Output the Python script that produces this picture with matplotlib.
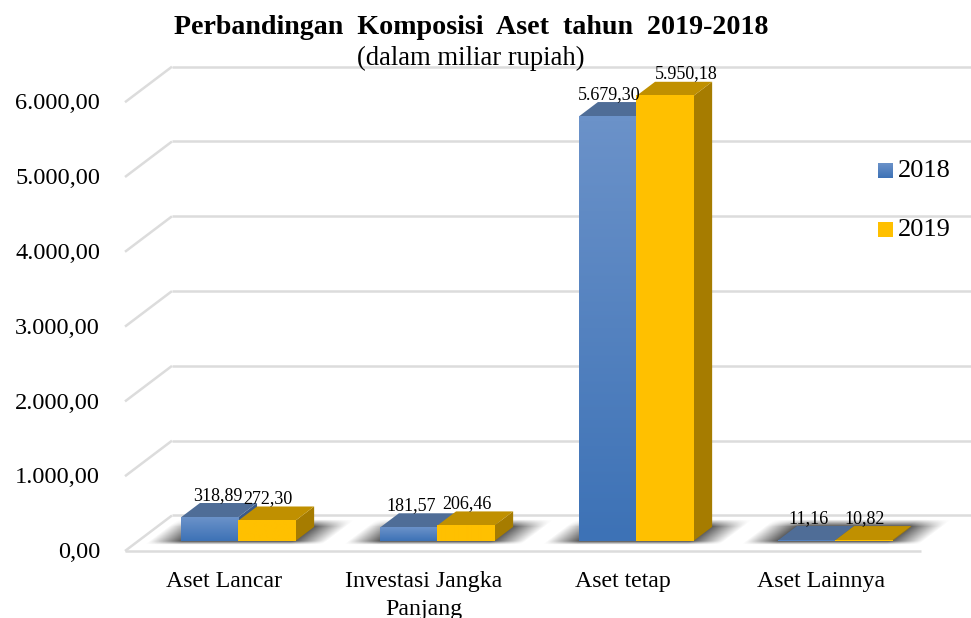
import matplotlib
matplotlib.use('Agg')
import matplotlib.pyplot as plt
import numpy as np
from matplotlib.colors import LinearSegmentedColormap
from matplotlib.patches import Polygon

plt.rcParams['font.family'] = ['Liberation Serif', 'DejaVu Serif']

categories = ['Aset Lancar', 'Investasi Jangka\nPanjang', 'Aset tetap', 'Aset Lainnya']
values_2018 = [318.89, 181.57, 5679.30, 11.16]
values_2019 = [272.30, 206.46, 5950.18, 10.82]
labels_2018 = ['318,89', '181,57', '5.679,30', '11,16']
labels_2019 = ['272,30', '206,46', '5.950,18', '10,82']
y_ticks = [0, 1000, 2000, 3000, 4000, 5000, 6000]
y_tick_labels = ['0,00', '1.000,00', '2.000,00', '3.000,00', '4.000,00', '5.000,00', '6.000,00']
series_names = ['2018', '2019']

# fake 3d: depth goes right and up
DEPTH_X = 0.236
DEPTH_V = 474.6
BAR_W = 0.287
BAR_X0 = 0.216
D0, D1 = 0.28, 0.68
PX_X = 199.0    # pixels per category
PX_V = 0.0748   # pixels per value unit

blue_cmap = LinearSegmentedColormap.from_list('b', ['#3d72b6', '#6b92c9'])
yellow_cmap = LinearSegmentedColormap.from_list('y', ['#ffc000', '#ffc000'])
blue_top, blue_side = '#4f6d97', '#3b5a88'
yellow_top, yellow_side = '#c09000', '#a67c00'
grid_c = '#dcdcdc'


def proj(x, v, d):
    return x + DEPTH_X * d, v + DEPTH_V * d


fig = plt.figure(figsize=(9.71, 6.18), dpi=100)
ax = fig.add_axes([0, 0, 1, 1])
xlim = (-125 / PX_X, (971 - 125) / PX_X)
ylim = (-(618 - 551) / PX_V, 551 / PX_V)
ax.axis('off')


def gradient(x0, x1, v0, v1, cmap, z):
    g = np.linspace(1, 0, 64).reshape(-1, 1)
    ax.imshow(g, extent=(x0, x1, v0, v1), aspect='auto', cmap=cmap, vmin=0, vmax=1,
              zorder=z, interpolation='bilinear')


# wall and floor lines
for t, lab in zip(y_ticks, y_tick_labels):
    x0, v0 = proj(0, t, 0)
    x1, v1 = proj(0, t, 1)
    ax.plot([x0, x1], [v0, v1], color=grid_c, lw=1.8, zorder=1, solid_capstyle='butt')
    ax.plot([x1, xlim[1]], [v1, v1], color=grid_c, lw=1.8, zorder=1, solid_capstyle='butt')
    ax.text(-25 / PX_X, t - 22, lab, ha='right', va='center',
            fontsize=17.6, color='black', zorder=6)
ax.plot([0, len(categories)], [0, 0], color=grid_c, lw=1.8, zorder=1, solid_capstyle='butt')

# soft shadow on the floor behind each group
gx = np.linspace(xlim[0], xlim[1], 971)
gv = np.linspace(ylim[0], ylim[1], 618)
XX, VV = np.meshgrid(gx, gv)
dd = VV / DEPTH_V
bx = XX - DEPTH_X * dd
alpha = np.zeros_like(XX)


def ramp(a, soft):
    return np.clip(a / soft, 0, 1)


for i in range(len(categories)):
    left = i + BAR_X0
    right = left + 2 * BAR_W
    a = ramp(bx - (left - 0.16), 0.17) * ramp((right + 0.16) - bx, 0.17)
    a = a * ramp(dd - 0.17, 0.10) * ramp(0.88 - dd, 0.2)
    alpha = np.maximum(alpha, a)
rgba = np.zeros(XX.shape + (4,))
rgba[..., :3] = 0.28
rgba[..., 3] = alpha * 0.95
ax.imshow(rgba, extent=(xlim[0], xlim[1], ylim[0], ylim[1]), origin='lower', aspect='auto',
          zorder=2, interpolation='bilinear')


def draw_bar(x, h, cmap, top, side, z):
    xa, xb = x, x + BAR_W
    # side
    ax.add_patch(Polygon([proj(xb, 0, D0), proj(xb, 0, D1), proj(xb, h, D1), proj(xb, h, D0)],
                         closed=True, fc=side, ec='none', zorder=z))
    # top
    ax.add_patch(Polygon([proj(xa, h, D0), proj(xb, h, D0), proj(xb, h, D1), proj(xa, h, D1)],
                         closed=True, fc=top, ec='none', zorder=z))
    # front
    fx0, fv0 = proj(xa, 0, D0)
    fx1, fv1 = proj(xb, h, D0)
    gradient(fx0, fx1, fv0, fv1, cmap, z + 0.1)


for i in range(len(categories)):
    draw_bar(i + BAR_X0, values_2018[i], blue_cmap, blue_top, blue_side, 3)
    draw_bar(i + BAR_X0 + BAR_W, values_2019[i], yellow_cmap, yellow_top, yellow_side, 4)

# data labels, nudged by hand like the original
dx_2018 = [8.5, 2, 1, 2]
dx_2019 = [1, 1.5, 21, 0.5]
for i in range(len(categories)):
    for h, lab, dx, off in [(values_2018[i], labels_2018[i], dx_2018[i], 0),
                            (values_2019[i], labels_2019[i], dx_2019[i], 1)]:
        bx0 = i + BAR_X0 + off * BAR_W + BAR_W / 2
        px, pv = proj(bx0, h, D0)
        ax.text(px + dx / PX_X, pv + 22 / PX_V, lab, ha='center', va='center',
                fontsize=13, color='black', zorder=7)

# category labels
for i, c in enumerate(categories):
    ax.text(i + 0.5, -20 / PX_V, c, ha='center', va='top', fontsize=17.2,
            linespacing=1.42, color='black', zorder=6)

# legend
leg_x = (878 - 125) / PX_X
leg_w = 15 / PX_X
for name, cmap, py in zip(series_names, [blue_cmap, yellow_cmap], [170.5, 229.5]):
    vc = (551 - py) / PX_V
    gradient(leg_x, leg_x + leg_w, vc - 7.5 / PX_V, vc + 7.5 / PX_V, cmap, 6)
    ax.text(leg_x + 20 / PX_X, vc, name, ha='left', va='center', fontsize=19, zorder=6)

# titles
ax.text((471.5 - 125) / PX_X, (551 - 28) / PX_V, 'Perbandingan  Komposisi  Aset  tahun  2019-2018',
        ha='center', va='center', fontsize=20.2, fontweight='bold', zorder=7)
ax.text((470.5 - 125) / PX_X, (551 - 58) / PX_V, '(dalam miliar rupiah)',
        ha='center', va='center', fontsize=19.2, zorder=7)

ax.set_xlim(*xlim)
ax.set_ylim(*ylim)
fig.savefig('out.png', dpi=100, facecolor='white')
